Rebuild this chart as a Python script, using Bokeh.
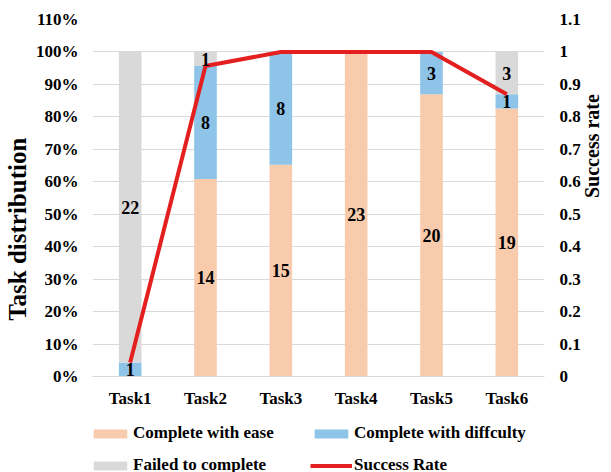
import math
from bokeh.plotting import figure
from bokeh.layouts import column
from bokeh.models import (Range1d, LinearAxis, FixedTicker, CustomJSTickFormatter,
                          ColumnDataSource, Legend, LegendItem, LabelSet)
from bokeh.embed import file_html
from bokeh.resources import INLINE

# Participant counts per task (23 participants each)
tasks = ["Task1", "Task2", "Task3", "Task4", "Task5", "Task6"]
ease = [0, 14, 15, 23, 20, 19]
difficulty = [1, 8, 8, 0, 3, 1]
failed = [22, 1, 0, 0, 0, 3]

totals = [e + d + f for e, d, f in zip(ease, difficulty, failed)]
ease_pct = [e / t for e, t in zip(ease, totals)]
diff_pct = [d / t for d, t in zip(difficulty, totals)]
fail_pct = [f / t for f, t in zip(failed, totals)]
success_rate = [(e + d) / t for e, d, t in zip(ease, difficulty, totals)]

FONT = "Liberation Serif"
C_EASE = "#F8CBAD"
C_DIFF = "#8EC4E8"
C_FAIL = "#D9D9D9"
C_LINE = "#E3201F"

p = figure(x_range=tasks, y_range=Range1d(0, 1.1), frame_width=452, frame_height=357,
           output_backend="svg", toolbar_location=None,
           min_border_left=92, min_border_right=67, min_border_top=19, min_border_bottom=33)
p.outline_line_color = None
p.extra_y_ranges = {"rate": Range1d(0, 1.1)}

src = ColumnDataSource(dict(task=tasks, ease=ease_pct, diff=diff_pct, fail=fail_pct,
                            rate=success_rate))
bars = p.vbar_stack(["ease", "diff", "fail"], x="task", width=0.3, source=src,
                    color=[C_EASE, C_DIFF, C_FAIL], line_color=None)

line = p.line(x="task", y="rate", source=src, y_range_name="rate",
              line_color=C_LINE, line_width=4, line_join="round")

# Count labels at the middle of each non-empty segment
lx, ly, lt = [], [], []
for i, t in enumerate(tasks):
    base = 0.0
    for cnt, frac in ((ease[i], ease_pct[i]), (difficulty[i], diff_pct[i]), (failed[i], fail_pct[i])):
        if cnt > 0:
            lx.append(t)
            ly.append(base + frac / 2)
            lt.append(str(cnt))
        base += frac
lab_src = ColumnDataSource(dict(x=lx, y=ly, t=lt))
p.add_layout(LabelSet(x="x", y="y", text="t", source=lab_src, text_align="center",
                      text_baseline="middle", text_font=FONT, text_font_style="bold",
                      text_font_size="18px", text_color="black"))

ticks = [0, 0.1, 0.2, 0.3, 0.4, 0.5, 0.6, 0.7, 0.8, 0.9, 1.0, 1.1]

# Left axis: percentage distribution (title nudged downward with trailing no-break spaces)
ya = p.yaxis[0]
ya.ticker = FixedTicker(ticks=ticks)
ya.formatter = CustomJSTickFormatter(code="return Math.round(tick*100) + '%';")
ya.axis_label = "Task distribution" + "\u00a0" * 10

# Right axis: success rate, title reading bottom-to-top like the left one
ra = LinearAxis(y_range_name="rate", ticker=FixedTicker(ticks=ticks),
                formatter=CustomJSTickFormatter(code="return String(Math.round(tick*10)/10);"),
                axis_label="Success rate")
ra.axis_label_orientation = math.pi / 2
ra.axis_label_text_align = "center"
p.add_layout(ra, "right")

for ax in (ya, ra):
    ax.axis_line_color = None
    ax.major_tick_line_color = None
    ax.minor_tick_line_color = None
    ax.major_tick_out = 0
    ax.major_tick_in = 0
    ax.minor_tick_out = 0
    ax.minor_tick_in = 0
    ax.major_label_text_font = FONT
    ax.major_label_text_font_style = "bold"
    ax.major_label_text_font_size = "17px"
    ax.major_label_text_color = "black"
    ax.axis_label_text_font = FONT
    ax.axis_label_text_font_style = "bold"
    ax.axis_label_text_color = "black"
    ax.axis_label_text_line_height = 0.9
ya.axis_label_text_font_size = "25px"
ra.axis_label_text_font_size = "20px"
ya.major_label_standoff = 14
ra.major_label_standoff = 15
ya.axis_label_standoff = 2
ra.axis_label_standoff = 8

xa = p.xaxis[0]
xa.axis_line_color = "#D9D9D9"
xa.axis_line_width = 1
xa.major_tick_line_color = None
xa.minor_tick_line_color = None
xa.major_tick_out = 0
xa.major_tick_in = 0
xa.major_label_text_font = FONT
xa.major_label_text_font_style = "bold"
xa.major_label_text_font_size = "17px"
xa.major_label_text_color = "black"
xa.major_label_standoff = 12

p.xgrid.grid_line_color = None
p.ygrid.ticker = FixedTicker(ticks=ticks)
p.ygrid.grid_line_color = "#D9D9D9"
p.ygrid.grid_line_width = 1

# Legend strip underneath the chart; its swatch renderers share the data but sit out of view
leg = figure(x_range=tasks, y_range=Range1d(10, 11), frame_width=452, frame_height=63,
             output_backend="svg", toolbar_location=None,
             min_border_left=92, min_border_right=67, min_border_top=0, min_border_bottom=0)
leg.outline_line_color = None
leg.axis.visible = False
leg.grid.grid_line_color = None
sw_ease = leg.vbar(x="task", top="ease", width=0.3, source=src, color=C_EASE, line_color=None)
sw_diff = leg.vbar(x="task", top="diff", width=0.3, source=src, color=C_DIFF, line_color=None)
sw_fail = leg.vbar(x="task", top="fail", width=0.3, source=src, color=C_FAIL, line_color=None)
sw_line = leg.line(x="task", y="rate", source=src, line_color=C_LINE, line_width=4)

legend = Legend(items=[
    LegendItem(label="Complete with ease", renderers=[sw_ease]),
    LegendItem(label="Failed to complete", renderers=[sw_fail]),
    LegendItem(label="Complete with diffculty", renderers=[sw_diff]),
    LegendItem(label="Success Rate", renderers=[sw_line]),
], ncols=2, location=(-3, -2))
legend.label_text_font = FONT
legend.label_text_font_style = "bold"
legend.label_text_font_size = "17px"
legend.label_text_color = "black"
legend.glyph_width = 42
legend.glyph_height = 11
legend.label_height = 20
legend.label_width = 165
legend.label_standoff = 2
legend.spacing = 12
legend.padding = 0
legend.margin = 0
legend.border_line_color = None
legend.background_fill_alpha = 0
leg.add_layout(legend, "center")

open("out.html", "w").write(file_html(column(p, leg), INLINE))
